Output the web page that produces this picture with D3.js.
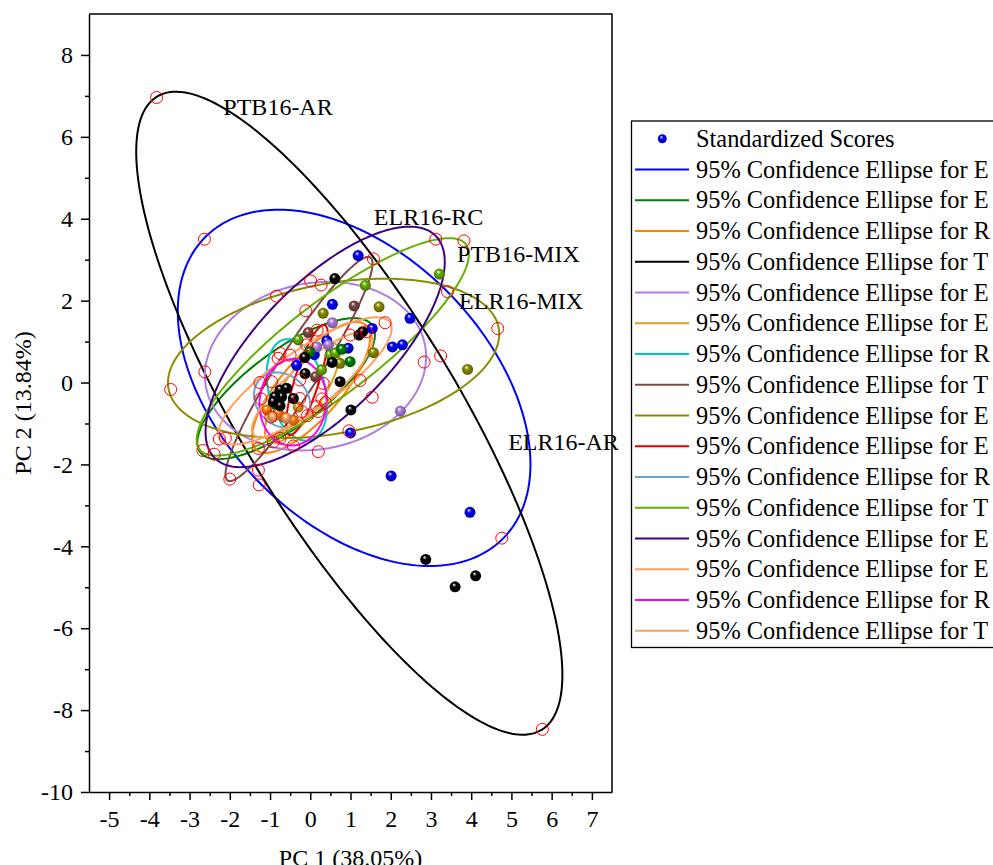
<!DOCTYPE html>
<html>
<head>
<meta charset="utf-8">
<script src="https://cdn.jsdelivr.net/npm/d3@7"></script>
<style>
	body { margin: 0; background: #fff; }
	svg { display: block; font-family: "Liberation Serif", "Times New Roman", serif; }
</style>
</head>
<body>
<div id="pca_plot"></div>
<script>

// group initials as they show in the legend (the legend is cut at the window edge)
const GROUPS = ['E', 'E', 'R', 'T',
				'E', 'E', 'R', 'T',
				'E', 'E', 'R', 'T',
				'E', 'E', 'R', 'T'];

// 95% confidence ellipses: centre, semi axes and angle (degrees), one per group
const ELLIPSE_CX = [1.09, -0.60, 0.02, 0.97, 0.13, -0.20, -0.33, -0.28, 0.58, -0.08, -0.70, 0.56, 0.37, -0.13, -0.43, 0.05];
const ELLIPSE_CY = [-0.13, -0.15, -0.12, -0.75, 0.40, -0.25, -0.18, 0.33, 0.59, 0.06, -0.43, 0.87, 0.87, 0.04, -0.48, -0.05];
const ELLIPSE_A = [5.22, 2.64, 2.04, 9.09, 2.77, 1.45, 1.27, 3.25, 4.17, 1.41, 0.75, 4.15, 3.86, 2.55, 1.06, 1.90];
const ELLIPSE_B = [3.30, 0.93, 0.74, 2.66, 2.03, 0.50, 0.70, 0.52, 1.83, 0.30, 0.62, 1.13, 1.60, 0.74, 0.83, 0.55];
const ELLIPSE_ANGLE = [-44.5, 35.9, 48.2, -58.2, 10.4, 55, 105, 56.9, 10.2, 72, -40, 37.0, 44.5, 34, 85, 40];

// standardized scores (group = index into GROUPS)
const SCORE_X = [1.19, 0.55, 2.48, 2.04, 2.29, 1.00, 2.01, 3.97, 0.41, 1.54, -0.34, 0.10, 0.94,
				3.91, 1.71, 0.32, 1.57, 0.74,
				0.55, 2.24, 0.16, 0.45,
				1.09, -0.05, 0.13,
				3.21, 1.37, -0.30, 0.49, 0.28, 0.62,
				0.78, 0.99, -0.80, -0.92, -0.01,
				-0.67, -0.42, -0.80, -1.08,
				-0.92, -0.59,
				-0.30,
				0.61, 1.21, 1.30, 0.74, 1.01, 2.87, 3.60, 4.11, -0.14, -0.13, 0.54, -0.75, -0.59, -0.71, -0.88, -0.42, -0.75, -0.92];
const SCORE_Y = [3.10, 1.91, 1.57, 0.87, 0.92, -1.23, -2.28, -3.17, 1.02, 1.32, 0.42, 0.68, 0.84,
				0.32, 1.85, 1.69, 0.73, 0.47,
				1.46, -0.70, 0.87, 0.92,
				1.87, 1.22, 0.14,
				2.65, 2.37, 1.04, 0.67, 0.31, 0.72,
				0.81, 0.51, -0.59, -0.51, 0.75,
				-0.84, -0.92, -0.75, -0.67,
				-0.84, -0.87,
				-0.60,
				2.54, 1.16, 1.24, 0.02, -0.67, -4.32, -4.99, -4.72, 0.61, 0.22, 0.49, -0.18, -0.14, -0.35, -0.35, -0.39, -0.57, -0.47];
const SCORE_GROUP = [0, 0, 0, 0, 0, 0, 0, 0, 0, 0, 0, 0, 0,
				8, 8, 8, 8, 8,
				4, 4, 4, 4,
				7, 7, 7,
				11, 11, 11, 11, 11, 11,
				1, 1, 1, 1, 1,
				2, 2, 2, 2,
				13, 13,
				5,
				3, 3, 3, 3, 3, 3, 3, 3, 3, 3, 3, 3, 3, 3, 3, 3, 3, 3];

// red open circles
const RING_X = [-3.82, 5.77, -2.63, 4.76, 3.12, 3.82, 1.57, 0.01, 0.27, 3.41, 4.66, 3.24, 2.83, -0.84, -0.11, 1.86,
				-2.62, -3.47, -0.80, 0.17, 0.99, 1.40, 1.24, 1.54, -0.75, -0.50, -1.25, -0.96, -1.23, 0.32, 0.29, 0.38,
				0.16, -0.07, -0.21, -0.26, -0.98, 0.96, 0.20, -0.42, -0.92, -1.29, -2.26, -2.11, -2.67, -2.39, -1.29,
				-2.00, -1.27, -0.75, -0.26, 0.20, -0.09];
const RING_Y = [6.96, -8.47, 3.50, -3.80, 3.50, 3.46, 3.02, 2.48, 2.38, 2.22, 1.32, 0.65, 0.50, 2.11, 1.75, 1.46,
				0.26, -0.17, 0.59, 1.28, 1.16, 1.24, 0.05, -0.36, 0.71, 0.67, 0.00, 0.02, -0.40, -0.02, -0.40, -0.49,
				-0.59, -0.81, -0.71, -0.39, -0.84, -1.18, -1.69, -1.55, -1.45, -1.61, -1.38, -1.36, -1.66, -1.75, -2.14,
				-2.36, -2.50, -1.36, 0.06, -0.71, 0.92];

// group labels drawn inside the plot
const LABELS = ['PTB16-AR', 'ELR16-RC', 'PTB16-MIX', 'ELR16-MIX', 'ELR16-AR'];
const LABEL_X = [-2.16, 1.58, 3.65, 3.70, 4.92];
const LABEL_Y = [6.53, 3.85, 2.95, 1.79, -1.65];

const X_TICKS = d3.range(-5, 8);
const Y_TICKS = d3.range(-10, 9, 2);

// styles
const COLORS = ['#0000ff', '#008000', '#ff8000', '#000000',
				'#b07ee0', '#d4a017', '#00c4c4', '#804848',
				'#8c8c00', '#e00000', '#6f9fd4', '#66b000',
				'#400080', '#ffa060', '#ff00ff', '#f4a460'];

const FRAME_WIDTH = 993;
const FRAME_HEIGHT = 865;
const MARGINS = {left: 89, top: 14};
const VIS_WIDTH = 523;
const VIS_HEIGHT = 778;

const FRAME =
d3.select('#pca_plot')
	.append('svg')
		.attr('width', FRAME_WIDTH)
		.attr('height', FRAME_HEIGHT);

const X_SCALE = d3.scaleLinear()
					.domain([-5.5, 7.5])
					.range([MARGINS.left, MARGINS.left + VIS_WIDTH]);

const Y_SCALE = d3.scaleLinear()
					.domain([-10, 9])
					.range([MARGINS.top + VIS_HEIGHT, MARGINS.top]);

// ball gradients, one per colour
const DEFS = FRAME.append('defs');
COLORS.forEach((c, i) => {
	const grad = DEFS.append('radialGradient')
						.attr('id', 'ball' + i)
						.attr('cx', '50%').attr('cy', '50%').attr('r', '55%')
						.attr('fx', '38%').attr('fy', '28%');
	grad.append('stop').attr('offset', '0%').attr('stop-color', '#ffffff');
	grad.append('stop').attr('offset', '35%').attr('stop-color', c);
	grad.append('stop').attr('offset', '100%').attr('stop-color', d3.color(c).darker(1.3));
});

// ellipses
function ellipse_points(i) {
	const th = ELLIPSE_ANGLE[i] * Math.PI / 180;
	const pts = [];
	for (let k = 0; k < 240; k++) {
		const t = 2 * Math.PI * k / 240;
		const u = ELLIPSE_A[i] * Math.cos(t);
		const v = ELLIPSE_B[i] * Math.sin(t);
		pts.push([ELLIPSE_CX[i] + u * Math.cos(th) - v * Math.sin(th),
				  ELLIPSE_CY[i] + u * Math.sin(th) + v * Math.cos(th)]);
	}
	return pts;
}

const LINE = d3.line()
				.x((d) => X_SCALE(d[0]))
				.y((d) => Y_SCALE(d[1]))
				.curve(d3.curveLinearClosed);

FRAME.append('g')
	.selectAll('path')
	.data(d3.range(GROUPS.length))
	.enter()
	.append('path')
		.attr('d', (i) => LINE(ellipse_points(i)))
		.attr('fill', 'none')
		.attr('stroke', (i) => COLORS[i])
		.attr('stroke-width', 2);

// scores, black ones on top
const ORDER = d3.range(SCORE_X.length).sort((a, b) => (SCORE_GROUP[a] == 3) - (SCORE_GROUP[b] == 3) || a - b);

FRAME.append('g')
	.selectAll('circle')
	.data(ORDER)
	.enter()
	.append('circle')
		.attr('cx', (i) => X_SCALE(SCORE_X[i]))
		.attr('cy', (i) => Y_SCALE(SCORE_Y[i]))
		.attr('r', 5.5)
		.attr('fill', (i) => 'url(#ball' + SCORE_GROUP[i] + ')');

// red rings
FRAME.append('g')
	.selectAll('circle')
	.data(d3.range(RING_X.length))
	.enter()
	.append('circle')
		.attr('cx', (i) => X_SCALE(RING_X[i]))
		.attr('cy', (i) => Y_SCALE(RING_Y[i]))
		.attr('r', 6)
		.attr('fill', 'none')
		.attr('stroke', '#ff0000')
		.attr('stroke-width', 1);

// group labels
FRAME.append('g')
	.selectAll('text')
	.data(LABELS)
	.enter()
	.append('text')
		.attr('x', (d, i) => X_SCALE(LABEL_X[i]))
		.attr('y', (d, i) => Y_SCALE(LABEL_Y[i]))
		.attr('font-size', '24px')
		.attr('fill', '#000')
		.text((d) => d);

// axes
FRAME.append('g')
	.attr('transform', 'translate(0,' + Y_SCALE(-10) + ')')
	.call(d3.axisBottom(X_SCALE).tickValues(X_TICKS).tickSize(8).tickSizeOuter(0)
			.tickPadding(10).tickFormat((d) => String(d)));

FRAME.append('g')
	.attr('transform', 'translate(0,' + Y_SCALE(-10) + ')')
	.call(d3.axisBottom(X_SCALE).tickValues(d3.range(-4.5, 7, 1)).tickSize(4).tickFormat(''))
	.call((g) => g.select('.domain').remove());

FRAME.append('g')
	.attr('transform', 'translate(' + X_SCALE(-5.5) + ',0)')
	.call(d3.axisLeft(Y_SCALE).tickValues(Y_TICKS).tickSize(8).tickSizeOuter(0)
			.tickPadding(8).tickFormat((d) => String(d)));

FRAME.append('g')
	.attr('transform', 'translate(' + X_SCALE(-5.5) + ',0)')
	.call(d3.axisLeft(Y_SCALE).tickValues(d3.range(-9, 9, 2)).tickSize(4).tickFormat(''))
	.call((g) => g.select('.domain').remove());

FRAME.selectAll('.tick text')
	.attr('font-size', '24px')
	.attr('font-family', '"Liberation Serif", "Times New Roman", serif')
	.attr('fill', '#000');
FRAME.selectAll('.tick line, .domain')
	.attr('stroke', '#000')
	.attr('stroke-width', 1.5);

// top and right frame lines
FRAME.append('path')
	.attr('d', 'M' + X_SCALE(-5.5) + ',' + Y_SCALE(9) + 'H' + X_SCALE(7.5) + 'V' + Y_SCALE(-10))
	.attr('fill', 'none')
	.attr('stroke', '#000')
	.attr('stroke-width', 1.5);

// axis titles
FRAME.append('text')
	.attr('x', (X_SCALE(-5.5) + X_SCALE(7.5)) / 2)
	.attr('y', 866)
	.attr('text-anchor', 'middle')
	.attr('font-size', '24px')
	.text('PC 1 (38.05%)');

FRAME.append('text')
	.attr('transform', 'translate(31,' + (Y_SCALE(9) + Y_SCALE(-10)) / 2 + ') rotate(-90)')
	.attr('text-anchor', 'middle')
	.attr('font-size', '24px')
	.text('PC 2 (13.84%)');

// legend
const LEGEND = FRAME.append('g');
const ROW_Y = (i) => 138.8 + 30.75 * i;

LEGEND.append('rect')
	.attr('x', 631.5)
	.attr('y', 121)
	.attr('width', 420)
	.attr('height', 526.5)
	.attr('fill', '#fff')
	.attr('stroke', '#000')
	.attr('stroke-width', 1.3);

LEGEND.append('circle')
	.attr('cx', 662.3)
	.attr('cy', ROW_Y(0))
	.attr('r', 4.5)
	.attr('fill', 'url(#ball0)');

LEGEND.append('text')
	.attr('x', 696)
	.attr('y', ROW_Y(0) + 8)
	.attr('font-size', '24.4px')
	.text('Standardized Scores');

LEGEND.selectAll('line.key')
	.data(GROUPS)
	.enter()
	.append('line')
		.attr('class', 'key')
		.attr('x1', 635)
		.attr('x2', 689)
		.attr('y1', (d, i) => ROW_Y(i + 1))
		.attr('y2', (d, i) => ROW_Y(i + 1))
		.attr('stroke', (d, i) => COLORS[i])
		.attr('stroke-width', 2);

LEGEND.selectAll('text.key')
	.data(GROUPS)
	.enter()
	.append('text')
		.attr('class', 'key')
		.attr('x', 696)
		.attr('y', (d, i) => ROW_Y(i + 1) + 8)
		.attr('font-size', '24.4px')
		.text((d) => '95% Confidence Ellipse for ' + d);

</script>
</body>
</html>
